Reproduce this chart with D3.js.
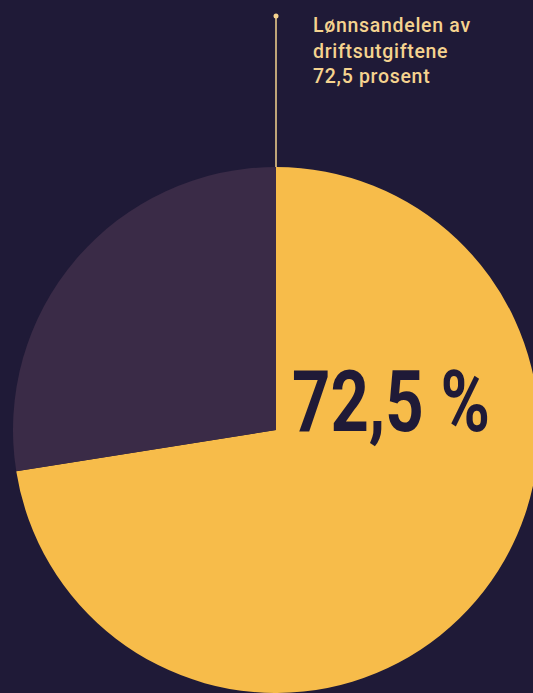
<!DOCTYPE html>
<html><head><meta charset="utf-8">
<script src="https://cdn.jsdelivr.net/npm/d3@7"></script>
<style>html,body{margin:0;padding:0;background:#1f1a37;overflow:hidden}</style>
</head><body>
<svg id="c" width="533" height="693"></svg>
<script>
const categories = ["Lønn", "Andre driftsutgifter"];
const values = [72.5, 27.5];
const colors = ["#f7bc4a", "#3a2b47"];
const labelLines = ["Lønnsandelen av", "driftsutgiftene", "72,5 prosent"];
const bigLabel = "72,5 %";

const svg = d3.select("#c");
const cx = 276, cy = 430, r = 263;
const pie = d3.pie().sort(null).value(d => d);
const arc = d3.arc().innerRadius(0).outerRadius(r);
const g = svg.append("g").attr("transform", `translate(${cx},${cy})`);
g.selectAll("path").data(pie(values)).enter().append("path")
  .attr("d", arc).attr("fill", (d, i) => colors[i]);

// leader line
svg.append("line").attr("x1", cx).attr("x2", cx).attr("y1", 16).attr("y2", cy - r)
  .attr("stroke", "#f5d38f").attr("stroke-width", 1.5);
svg.append("circle").attr("cx", cx).attr("cy", 16).attr("r", 2.5).attr("fill", "#f5d38f");

const t = svg.append("text").attr("x", 313).attr("y", 32)
  .attr("fill", "#f5d38f").attr("font-family", "Roboto, sans-serif")
  .attr("font-weight", 500).attr("font-size", 19.5).attr("letter-spacing", 0.7);
labelLines.forEach((l, i) => t.append("tspan").attr("x", 313).attr("y", 32 + i * 25.5).text(l));

const big = svg.append("text").attr("x", 0).attr("y", 0)
  .attr("fill", "#1f1a37").attr("font-family", "Roboto, sans-serif")
  .attr("font-weight", 700).attr("font-size", 86)
  .text(bigLabel);
const w = big.node().getComputedTextLength();
big.attr("transform", `translate(292,431) scale(${198 / w},1)`);
</script>
</body></html>
